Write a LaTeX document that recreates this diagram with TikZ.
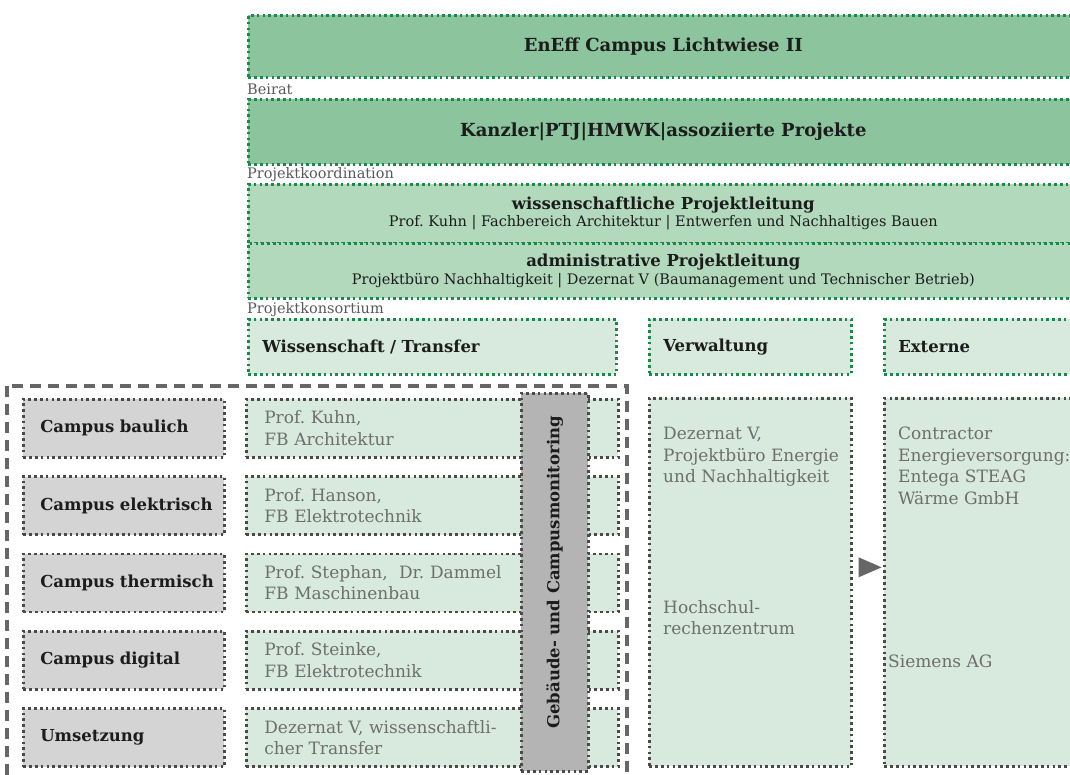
\documentclass[tikz,border=0pt]{standalone}
\usepackage{fontspec}
\setmainfont{DejaVu Serif}
\usetikzlibrary{calc}
\frenchspacing

\definecolor{greendark}{HTML}{8CC49E}
\definecolor{greenmid}{HTML}{B2D9BC}
\definecolor{greenlight}{HTML}{D7EADD}
\definecolor{dotgreen}{HTML}{1A8A4A}
\definecolor{dotgrey}{HTML}{4A4A4A}
\definecolor{boxgrey}{HTML}{D4D4D4}
\definecolor{monigrey}{HTML}{B4B4B4}
\definecolor{framegrey}{HTML}{666666}
\definecolor{txtgrey}{HTML}{6E6E6E}
\definecolor{txtdark}{HTML}{1C1C1C}

\newcommand\topfont{\fontsize{18}{21}\selectfont\bfseries}
\newcommand\bigfont{\fontsize{16.5}{20}\selectfont\bfseries}
\newcommand\midfont{\fontsize{17}{21.5}\selectfont}
\newcommand\smallfont{\fontsize{14.5}{17}\selectfont}

\begin{document}
\begin{tikzpicture}[x=1pt,y=-1pt,
    dots/.style={line width=2.6pt, dash pattern=on 2.6pt off 3.2pt},
    headbox/.style={dots, draw=dotgreen, fill=#1, inner sep=0pt, anchor=north west,
      text=txtdark, align=center},
    colbox/.style={dots, draw=dotgreen, fill=greenlight, anchor=north west,
      inner xsep=14pt, inner ysep=0pt, text=txtdark, font=\bigfont, align=left},
    lowbox/.style={dots, draw=dotgrey, fill=greenlight, anchor=north west,
      inner xsep=18pt, inner ysep=0pt, text=txtgrey, font=\midfont, align=left},
    topicbox/.style={dots, draw=dotgrey, fill=boxgrey, anchor=north west,
      inner xsep=17pt, inner ysep=0pt, text=txtdark, font=\bigfont, align=left},
    tag/.style={anchor=base west, inner sep=0pt, text=txtgrey!80!black, font=\smallfont},
    lowtext/.style={anchor=north west, inner sep=0pt, text=txtgrey, font=\midfont, align=left}]

  \useasboundingbox (0,0) rectangle (1070,774);
  \clip (0,0) rectangle (1070,774);

  % --------------------
  % the leading boxes
  % --------------------
  \node[headbox=greendark, minimum width=830, minimum height=62, font=\topfont]
    (eneff) at (247,14) {EnEff Campus Lichtwiese II};
  \node[tag] (beirat) at (247,94) {Beirat};
  \node[headbox=greendark, minimum width=830, minimum height=65, font=\topfont]
    (kanzler) at (247,98) {Kanzler|PTJ|HMWK|assoziierte Projekte};
  \node[tag] (koord) at (247,178) {Projektkoordination};
  \node[headbox=greenmid, minimum width=830, minimum height=59]
    (wissl) at (247,183) {{\bigfont wissenschaftliche Projektleitung}\\[1.5pt]
    {\smallfont Prof. Kuhn | Fachbereich Architektur | Entwerfen und Nachhaltiges Bauen}};
  \node[headbox=greenmid, minimum width=830, minimum height=55]
    (adminl) at (247,242) {{\bigfont administrative Projektleitung}\\[1.5pt]
    {\smallfont Projektbüro Nachhaltigkeit | Dezernat V (Baumanagement und Technischer Betrieb)}};
  \node[tag] (konsort) at (247,313) {Projektkonsortium};

  % --------------------
  % the three columns
  % --------------------
  \node[colbox, text width=340, minimum height=55] (wiss) at (247,318) {Wissenschaft / Transfer};
  \node[colbox, text width=174, minimum height=55] (verwhead) at (648,318) {Verwaltung};
  \node[colbox, text width=166, minimum height=55] (exthead) at (883,318) {Externe};

  % the frame round the project part
  \draw[framegrey, line width=3.2pt, dash pattern=on 11pt off 7pt] (7,386) rectangle (627,800);

  % --------------------
  % one row per topic
  % --------------------
  \foreach \i/\topic/\who in {0/Campus baulich/{Prof. Kuhn,\\FB Architektur},
      1/Campus elektrisch/{Prof. Hanson,\\FB Elektrotechnik},
      2/Campus thermisch/{Prof. Stephan,\ \ Dr. Dammel\\FB Maschinenbau},
      3/Campus digital/{Prof. Steinke,\\FB Elektrotechnik},
      4/Umsetzung/{Dezernat V, wissenschaftli-\\cher Transfer}}{
    \pgfmathsetmacro{\ytop}{398+77.3*\i}
    \node[topicbox, text width=167, minimum height=58] (topic\i) at (22,\ytop) {\mbox{\topic}};
    \node[lowbox, text width=336, minimum height=58] (team\i) at (245,\ytop) {\who};
  }

  \node[dots, draw=dotgrey, fill=monigrey, anchor=north west, minimum width=67,
    minimum height=378, inner sep=0pt] (moni) at (520,392) {};
  \node[rotate=90, text=txtdark, font=\bigfont] (monitext) at ($(moni.center)+(0,-10)$)
    {Gebäude- und Campusmonitoring};

  % --------------------
  % administration and partners
  % --------------------
  \node[dots, draw=dotgrey, fill=greenlight, anchor=north west, minimum width=202,
    minimum height=368, inner sep=0pt] (verw) at (648,397) {};
  \node[dots, draw=dotgrey, fill=greenlight, anchor=north west, minimum width=194,
    minimum height=368, inner sep=0pt] (ext) at (883,397) {};

  \node[lowtext] (verwa) at (663,427) {Dezernat V,\\Projektbüro Energie\\und Nachhaltigkeit};
  \node[lowtext] (verwb) at (663,600) {Hochschul-\\rechenzentrum};
  \node[lowtext] (exta) at (898,427) {Contractor\\Energieversorgung:\\Entega STEAG\\Wärme GmbH};
  \node[lowtext] (extb) at (888,655) {Siemens AG};

  \fill[framegrey] ($(verw.east)+(6,-25)$) -- ($(verw.east)+(6,-5)$)
    -- ($(verw.east)+(29,-15)$) -- cycle;
\end{tikzpicture}
\end{document}
